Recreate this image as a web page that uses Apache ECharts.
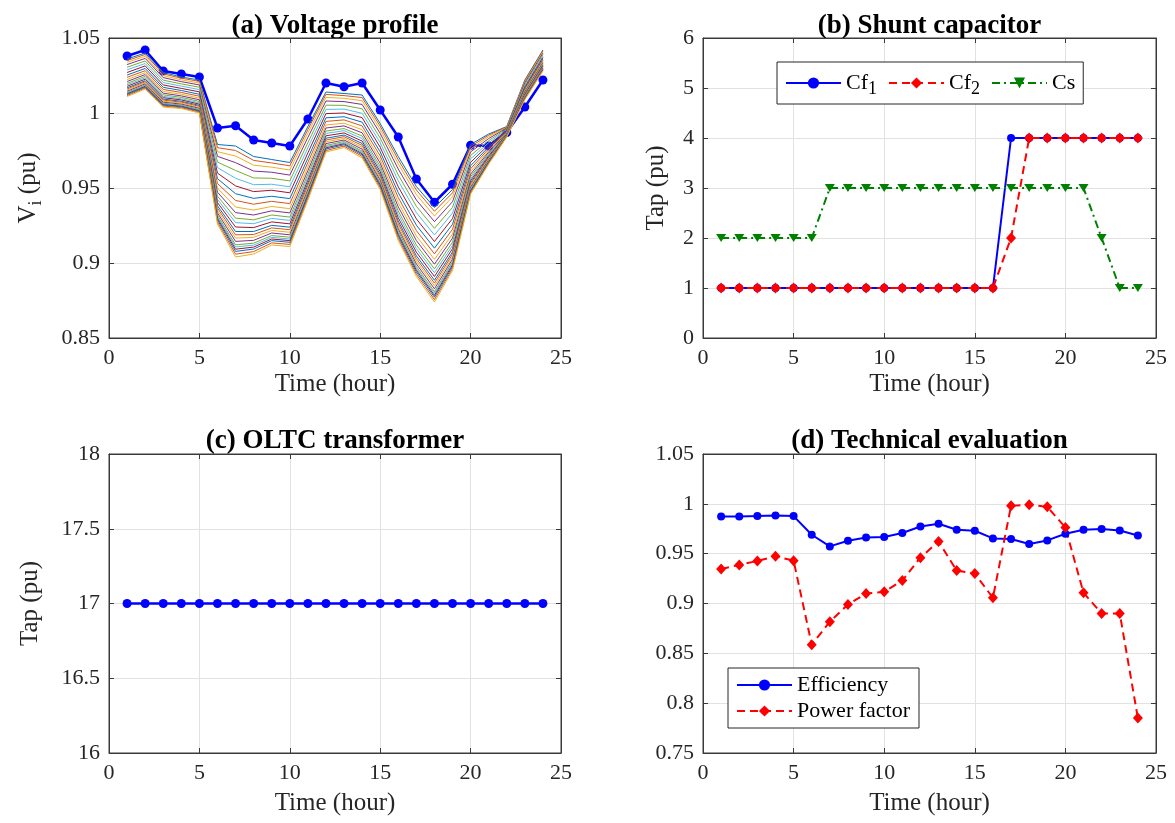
<!DOCTYPE html>
<html><head><meta charset="utf-8">
<script src="https://cdn.jsdelivr.net/npm/echarts/dist/echarts.min.js"></script>
<style>html,body{margin:0;padding:0;background:#fff}#c{width:1175px;height:823px}</style>
</head><body><div id="c"></div>
<script>
// ---------------- DATA ----------------
const hours = [1,2,3,4,5,6,7,8,9,10,11,12,13,14,15,16,17,18,19,20,21,22,23,24];

// (a) highlighted bus voltage (blue, with markers)
const refBusVoltage = [1.038,1.042,1.028,1.026,1.024,0.990,0.9915,0.982,0.980,0.978,0.996,1.020,1.0175,1.020,1.002,0.984,0.956,0.9405,0.9525,0.9785,0.978,0.987,1.004,1.022];

// (a) other bus voltages: one row per hour, one column per bus line
const busVoltageByHour = [
 [1.0360,1.0350,1.0338,1.0323,1.0305,1.0288,1.0270,1.0253,1.0238,1.0223,1.0210,1.0198,1.0188,1.0178,1.0168,1.0160,1.0153,1.0145,1.0138,1.0133,1.0128,1.0123,1.0116,1.0110],
 [1.0400,1.0390,1.0378,1.0364,1.0347,1.0330,1.0314,1.0297,1.0282,1.0268,1.0256,1.0244,1.0234,1.0225,1.0215,1.0208,1.0201,1.0194,1.0186,1.0182,1.0177,1.0172,1.0166,1.0160],
 [1.0270,1.0261,1.0249,1.0236,1.0219,1.0203,1.0187,1.0171,1.0157,1.0144,1.0132,1.0121,1.0111,1.0102,1.0093,1.0086,1.0079,1.0072,1.0065,1.0061,1.0056,1.0052,1.0046,1.0040],
 [1.0240,1.0232,1.0221,1.0209,1.0194,1.0179,1.0164,1.0150,1.0137,1.0125,1.0114,1.0104,1.0095,1.0087,1.0078,1.0072,1.0066,1.0059,1.0053,1.0049,1.0045,1.0041,1.0035,1.0030],
 [1.0220,1.0211,1.0200,1.0187,1.0172,1.0156,1.0141,1.0125,1.0112,1.0099,1.0088,1.0077,1.0068,1.0059,1.0051,1.0044,1.0037,1.0031,1.0024,1.0020,1.0015,1.0011,1.0006,1.0000],
 [0.9790,0.9769,0.9742,0.9711,0.9673,0.9636,0.9599,0.9562,0.9530,0.9499,0.9472,0.9446,0.9424,0.9403,0.9382,0.9366,0.9350,0.9334,0.9318,0.9308,0.9297,0.9287,0.9273,0.9260],
 [0.9780,0.9750,0.9713,0.9669,0.9617,0.9565,0.9514,0.9462,0.9417,0.9373,0.9336,0.9299,0.9269,0.9240,0.9210,0.9188,0.9166,0.9144,0.9121,0.9107,0.9092,0.9077,0.9059,0.9040],
 [0.9710,0.9684,0.9652,0.9613,0.9567,0.9522,0.9476,0.9431,0.9392,0.9353,0.9320,0.9288,0.9262,0.9236,0.9210,0.9190,0.9171,0.9151,0.9132,0.9119,0.9106,0.9093,0.9076,0.9060],
 [0.9690,0.9667,0.9639,0.9605,0.9565,0.9525,0.9485,0.9445,0.9411,0.9377,0.9348,0.9320,0.9297,0.9274,0.9251,0.9234,0.9217,0.9200,0.9183,0.9171,0.9160,0.9149,0.9134,0.9120],
 [0.9670,0.9648,0.9620,0.9586,0.9547,0.9508,0.9468,0.9429,0.9396,0.9362,0.9334,0.9306,0.9284,0.9261,0.9239,0.9222,0.9205,0.9188,0.9172,0.9160,0.9149,0.9138,0.9124,0.9110],
 [0.9910,0.9890,0.9866,0.9837,0.9802,0.9768,0.9734,0.9699,0.9670,0.9641,0.9616,0.9592,0.9572,0.9552,0.9533,0.9518,0.9503,0.9489,0.9474,0.9464,0.9454,0.9445,0.9432,0.9420],
 [1.0140,1.0124,1.0104,1.0080,1.0052,1.0024,0.9996,0.9968,0.9944,0.9920,0.9900,0.9880,0.9864,0.9848,0.9832,0.9820,0.9808,0.9796,0.9784,0.9776,0.9768,0.9760,0.9750,0.9740],
 [1.0130,1.0116,1.0098,1.0076,1.0051,1.0026,1.0000,0.9975,0.9954,0.9932,0.9914,0.9896,0.9882,0.9867,0.9853,0.9842,0.9831,0.9820,0.9810,0.9802,0.9795,0.9788,0.9779,0.9770],
 [1.0120,1.0103,1.0082,1.0057,1.0028,0.9998,0.9969,0.9939,0.9914,0.9889,0.9868,0.9847,0.9830,0.9813,0.9797,0.9784,0.9771,0.9759,0.9746,0.9738,0.9729,0.9721,0.9711,0.9700],
 [0.9930,0.9912,0.9890,0.9864,0.9833,0.9802,0.9772,0.9741,0.9714,0.9688,0.9666,0.9644,0.9626,0.9609,0.9591,0.9578,0.9565,0.9552,0.9538,0.9530,0.9521,0.9512,0.9501,0.9490],
 [0.9710,0.9688,0.9660,0.9626,0.9587,0.9548,0.9508,0.9469,0.9436,0.9402,0.9374,0.9346,0.9324,0.9301,0.9279,0.9262,0.9245,0.9228,0.9212,0.9200,0.9189,0.9178,0.9164,0.9150],
 [0.9510,0.9486,0.9456,0.9420,0.9378,0.9336,0.9294,0.9252,0.9216,0.9180,0.9150,0.9120,0.9096,0.9072,0.9048,0.9030,0.9012,0.8994,0.8976,0.8964,0.8952,0.8940,0.8925,0.8910],
 [0.9370,0.9345,0.9313,0.9276,0.9231,0.9187,0.9143,0.9099,0.9061,0.9024,0.8992,0.8961,0.8935,0.8910,0.8885,0.8866,0.8847,0.8828,0.8809,0.8797,0.8784,0.8772,0.8756,0.8740],
 [0.9490,0.9468,0.9441,0.9409,0.9371,0.9333,0.9296,0.9258,0.9225,0.9193,0.9166,0.9139,0.9117,0.9096,0.9074,0.9058,0.9042,0.9026,0.9009,0.8999,0.8988,0.8977,0.8964,0.8950],
 [0.9790,0.9777,0.9760,0.9741,0.9717,0.9694,0.9671,0.9648,0.9628,0.9609,0.9592,0.9576,0.9562,0.9549,0.9536,0.9526,0.9516,0.9506,0.9496,0.9490,0.9483,0.9477,0.9468,0.9460],
 [0.9860,0.9852,0.9842,0.9830,0.9816,0.9802,0.9788,0.9774,0.9762,0.9750,0.9740,0.9730,0.9722,0.9714,0.9706,0.9700,0.9694,0.9688,0.9682,0.9678,0.9674,0.9670,0.9665,0.9660],
 [0.9910,0.9907,0.9904,0.9900,0.9895,0.9890,0.9885,0.9880,0.9876,0.9872,0.9868,0.9865,0.9862,0.9859,0.9856,0.9854,0.9852,0.9850,0.9848,0.9846,0.9845,0.9844,0.9842,0.9840],
 [1.0220,1.0215,1.0208,1.0201,1.0191,1.0182,1.0173,1.0164,1.0156,1.0149,1.0142,1.0136,1.0130,1.0125,1.0120,1.0116,1.0112,1.0108,1.0104,1.0102,1.0099,1.0097,1.0093,1.0090],
 [1.0420,1.0414,1.0407,1.0399,1.0389,1.0379,1.0370,1.0360,1.0351,1.0343,1.0336,1.0329,1.0323,1.0318,1.0312,1.0308,1.0304,1.0300,1.0295,1.0293,1.0290,1.0287,1.0284,1.0280]
];

// (b) shunt capacitor taps
const cf1Tap = [1,1,1,1,1,1,1,1,1,1,1,1,1,1,1,1,4,4,4,4,4,4,4,4];
const cf2Tap = [1,1,1,1,1,1,1,1,1,1,1,1,1,1,1,1,2,4,4,4,4,4,4,4];
const csTap  = [2,2,2,2,2,2,3,3,3,3,3,3,3,3,3,3,3,3,3,3,3,2,1,1];

// (c) OLTC tap
const oltcTap = [17,17,17,17,17,17,17,17,17,17,17,17,17,17,17,17,17,17,17,17,17,17,17,17];

// (d) technical evaluation
const efficiency  = [0.9873,0.9873,0.9877,0.9883,0.9877,0.969,0.9573,0.963,0.9663,0.9667,0.9707,0.9773,0.980,0.974,0.973,0.9653,0.9647,0.9597,0.9633,0.970,0.974,0.9747,0.9733,0.9683];
const powerFactor = [0.9347,0.9387,0.9427,0.9473,0.943,0.8587,0.8817,0.899,0.910,0.9117,0.923,0.946,0.9623,0.933,0.930,0.9057,0.998,0.999,0.997,0.9763,0.9107,0.890,0.890,0.785];

const panelTitles = ['(a) Voltage profile','(b) Shunt capacitor','(c) OLTC transformer','(d) Technical evaluation'];

// ---------------- STYLE ----------------
const FONT = 'Liberation Serif';
const AXIS_COLOR = '#3a3a3a';
const GRID_COLOR = '#e2e2e2';
const TXT = '#262626';
const matlabColors = ['#0072BD','#D95319','#EDB120','#7E2F8E','#77AC30','#4DBEEE','#A2142F'];
const grids = [
  {left:109, top:38, width:452, height:300},
  {left:703, top:38, width:453, height:300},
  {left:109, top:454, width:452, height:299},
  {left:703, top:454, width:453, height:299}
];
const subRich = {
  sub:{fontFamily:FONT, fontSize:18, color:TXT, verticalAlign:'bottom', lineHeight:18}
};

const xAxes = [], yAxes = [];
function addAxes(g, yMin, yMax, yInt, yName, yGap, xGap) {
  const line = {show:true, onZero:false, lineStyle:{color:AXIS_COLOR, width:1}};
  const tick = {show:true, inside:true, length:5, lineStyle:{color:AXIS_COLOR}};
  xAxes.push({type:'value', gridIndex:g, min:0, max:25, interval:5, position:'bottom',
    axisLine:line, axisTick:tick,
    axisLabel:{fontFamily:FONT, fontSize:22, color:TXT, margin:9},
    splitLine:{show:true, lineStyle:{color:GRID_COLOR}},
    name:'Time (hour)', nameLocation:'middle', nameGap:xGap,
    nameTextStyle:{fontFamily:FONT, fontSize:25, color:TXT}});
  xAxes.push({type:'value', gridIndex:g, min:0, max:25, interval:5, position:'top',
    axisLine:line, axisTick:tick, axisLabel:{show:false}, splitLine:{show:false}});
  yAxes.push({type:'value', gridIndex:g, min:yMin, max:yMax, interval:yInt, position:'left',
    axisLine:line, axisTick:tick,
    axisLabel:{fontFamily:FONT, fontSize:22, color:TXT, margin:9},
    splitLine:{show:true, lineStyle:{color:GRID_COLOR}},
    name:yName, nameLocation:'middle', nameGap:yGap,
    nameTextStyle:{fontFamily:FONT, fontSize:25, color:TXT, lineHeight:34, rich:subRich}});
  yAxes.push({type:'value', gridIndex:g, min:yMin, max:yMax, interval:yInt, position:'right',
    axisLine:line, axisTick:tick, axisLabel:{show:false}, splitLine:{show:false}});
}
addAxes(0, 0.85, 1.05, 0.05, 'V{sub|i} (pu)', 64, 34);
addAxes(1, 0, 6, 1, 'Tap (pu)', 30, 34);
addAxes(2, 16, 18, 0.5, 'Tap (pu)', 62, 38);
addAxes(3, 0.75, 1.05, 0.05, '', 40, 38);

const pairs = arr => hours.map((h, i) => [h, arr[i]]);
const series = [];
function ax(g){ return {xAxisIndex:2*g, yAxisIndex:2*g}; }

// (a)
series.push(Object.assign({type:'line', name:'ref', data:pairs(refBusVoltage),
  symbol:'circle', symbolSize:9, itemStyle:{color:'#0000ff'},
  lineStyle:{color:'#0000ff', width:2.5}, z:2}, ax(0)));
for (let k = 0; k < busVoltageByHour[0].length; k++) {
  series.push(Object.assign({type:'line', name:'bus'+k,
    data: hours.map((h, i) => [h, busVoltageByHour[i][k]]),
    symbol:'none', lineStyle:{color:matlabColors[k % 7], width:1}, z:3}, ax(0)));
}
const downTri = 'path://M0,0 L10,0 L5,8 Z';
// (b)
series.push(Object.assign({type:'line', name:'Cf1', data:pairs(cf1Tap),
  symbol:'circle', symbolSize:8, itemStyle:{color:'#0000ff'},
  lineStyle:{color:'#0000ff', width:2}}, ax(1)));
series.push(Object.assign({type:'line', name:'Cf2', data:pairs(cf2Tap),
  symbol:'diamond', symbolSize:[10,11], itemStyle:{color:'#ff0000'},
  lineStyle:{color:'#ff0000', width:2, type:[8,5]}}, ax(1)));
series.push(Object.assign({type:'line', name:'Cs', data:pairs(csTap),
  symbol:downTri, symbolSize:[10,8], itemStyle:{color:'#008000'},
  lineStyle:{color:'#008000', width:2, type:[8,4,2,4]}}, ax(1)));
// (c)
series.push(Object.assign({type:'line', name:'OLTC', data:pairs(oltcTap),
  symbol:'circle', symbolSize:9, itemStyle:{color:'#0000ff'},
  lineStyle:{color:'#0000ff', width:2.5}}, ax(2)));
// (d)
series.push(Object.assign({type:'line', name:'Efficiency', data:pairs(efficiency),
  symbol:'circle', symbolSize:8, itemStyle:{color:'#0000ff'},
  lineStyle:{color:'#0000ff', width:2}}, ax(3)));
series.push(Object.assign({type:'line', name:'Power factor', data:pairs(powerFactor),
  symbol:'diamond', symbolSize:[10,11], itemStyle:{color:'#ff0000'},
  lineStyle:{color:'#ff0000', width:2, type:[8,5]}}, ax(3)));

const legendText = {fontFamily:FONT, fontSize:22, color:'#000', lineHeight:30,
  rich:{sub:{fontFamily:FONT, fontSize:18, color:'#000', verticalAlign:'bottom', lineHeight:18}}};

const titleCenters = [[335,26],[929.5,26],[335,441],[929.5,441]];
const option = {
  animation:false,
  backgroundColor:'#fff',
  grid: grids.map(g => Object.assign({show:true, borderColor:AXIS_COLOR, borderWidth:1, backgroundColor:'#fff', containLabel:false}, g)),
  xAxis: xAxes, yAxis: yAxes,
  legend:[
    {data:['Cf1','Cf2','Cs'], orient:'horizontal', left:777, top:62,
     itemWidth:55, itemHeight:14, itemGap:11, padding:[6,8,6,8],
     borderColor:'#262626', borderWidth:1, backgroundColor:'#fff',
     formatter: n => n === 'Cf1' ? 'Cf{sub|1}' : (n === 'Cf2' ? 'Cf{sub|2}' : n),
     textStyle:legendText, selectedMode:false},
    {data:['Efficiency','Power factor'], orient:'vertical', left:728, top:668,
     itemWidth:55, itemHeight:14, itemGap:4, padding:[6,9,6,8],
     borderColor:'#262626', borderWidth:1, backgroundColor:'#fff',
     textStyle:{fontFamily:FONT, fontSize:22, color:'#000'}, selectedMode:false}
  ],
  graphic: panelTitles.map((t, i) => ({type:'text', x:titleCenters[i][0], y:titleCenters[i][1],
    style:{text:t, fontFamily:FONT, fontSize:27, fontWeight:'bold', fill:'#000',
      align:'center', verticalAlign:'middle'}})),
  series: series
};
const chart = echarts.init(document.getElementById('c'), null, {renderer:'canvas'});
chart.setOption(option);
</script>
</body></html>
